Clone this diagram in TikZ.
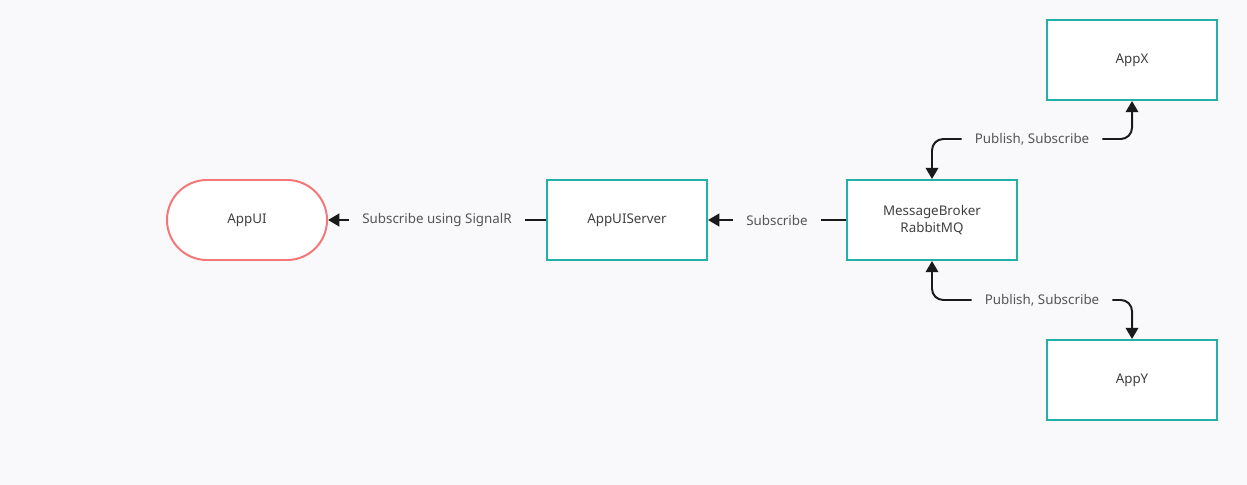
\documentclass[tikz,border=0pt]{standalone}
\usepackage{fontspec}
\setmainfont{Noto Sans}
\usetikzlibrary{arrows.meta}

\definecolor{pagebg}{HTML}{F9F9FB}
\definecolor{tealline}{HTML}{22B0A8}
\definecolor{redline}{HTML}{F47777}
\definecolor{labelgray}{HTML}{555555}
\definecolor{wire}{HTML}{1A1A1A}

\tikzset{
    appbox/.style={draw=tealline, line width=1.4pt, fill=white, minimum width=4cm,
        minimum height=2cm, align=center, text=black!75, font=\fontsize{9.5}{12.5}\selectfont},
    uibox/.style={appbox, draw=redline, rounded corners=1cm},
    wirelabel/.style={fill=pagebg, text=labelgray, inner xsep=0.33cm, inner ysep=2pt,
        font=\fontsize{9.5}{11}\selectfont},
    wireline/.style={draw=wire, line width=1.4pt, -{Triangle[length=8pt,width=9pt]}}
}

\begin{document}
\begin{tikzpicture}[x=0.025cm, y=-0.025cm]
            %fond de page
            \useasboundingbox[fill=pagebg] (0, 0) rectangle (1247, 485);

            \node[uibox] (appui) at (247, 220) {AppUI};
            \node[appbox] (uiserver) at (627, 220) {AppUIServer};
            \node[appbox, minimum width=4.25cm] (broker) at (932, 220) {MessageBroker\\RabbitMQ};
            \node[appbox, minimum width=4.25cm] (appx) at (1132, 60) {AppX};
            \node[appbox, minimum width=4.25cm] (appy) at (1132, 380) {AppY};

            %fleches
            \draw[wireline] (uiserver.west) -- node[wirelabel] {Subscribe using SignalR} (appui.east);
            \draw[wireline] (broker.west) -- node[wirelabel] {Subscribe} (uiserver.east);
            \draw[wireline, {Triangle[length=8pt,width=9pt]}-{Triangle[length=8pt,width=9pt]}, rounded corners=8pt]
                (broker.north) -- ++(0, -40) -| node[wirelabel, pos=0.25] {Publish, Subscribe} (appx.south);
            \draw[wireline, {Triangle[length=8pt,width=9pt]}-{Triangle[length=8pt,width=9pt]}, rounded corners=8pt]
                (broker.south) -- ++(0, 39) -| node[wirelabel, pos=0.275] {Publish, Subscribe} (appy.north);
\end{tikzpicture}
\end{document}
